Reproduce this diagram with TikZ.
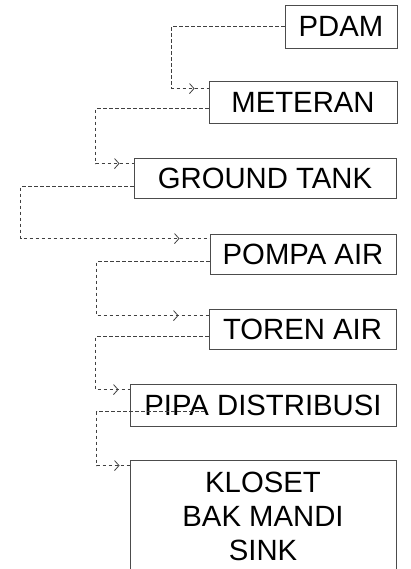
\documentclass[tikz,border=0pt]{standalone}
\usepackage{fontspec}
\setmainfont{Liberation Sans}
\usetikzlibrary{calc,arrows.meta,decorations.markings}
\tikzset{
  box/.style={draw=black!70, line width=0.9pt, fill=white, inner sep=0pt, align=center,
    font=\fontsize{29.3}{34}\selectfont},
  conn/.style={draw=black!75, line width=0.8pt, dash pattern=on 3.5pt off 2.5pt},
  tipat/.style={postaction={decorate, decoration={markings,
    mark=at position -#1pt with {\arrow[solid,line width=0.8pt]{Straight Barb[length=4.5pt,width=10pt]}}}}}
}
\begin{document}
\begin{tikzpicture}[x=1pt,y=-1pt]
\useasboundingbox (0,0) rectangle (410,569);
\clip (0,0) rectangle (410,569);
\node[box, minimum width=112pt, minimum height=43pt] (pdam) at (341,26.5) {PDAM};
\node[box, minimum width=188pt, minimum height=42pt] (meteran) at (303,102) {METERAN};
\node[box, minimum width=262pt, minimum height=40pt] (gt) at (265,178) {GROUND TANK};
\node[box, minimum width=186pt, minimum height=40pt] (pompa) at (303,254) {POMPA AIR};
\node[box, minimum width=187pt, minimum height=40pt] (toren) at (302.5,329) {TOREN AIR};
\node[box, minimum width=266pt, minimum height=42pt] (pipa) at (263,405) {PIPA DISTRIBUSI};
\node[box, minimum width=266pt, minimum height=113pt] (kl) at (263,516.5) {KLOSET\\BAK MANDI\\SINK};

\draw[conn, tipat=14] (pdam.west) -- ++(-113,0) |- ($(meteran.north west)+(0,8)$);
\draw[conn, tipat=14] ($(meteran.north west)+(0,28)$) -- ++(-113,0) |- ($(gt.north west)+(0,6)$);
\draw[conn, tipat=30] ($(gt.north west)+(0,29)$) -- ++(-113,0) |- ($(pompa.north west)+(0,5)$);
\draw[conn, tipat=30] ($(pompa.north west)+(0,28)$) -- ++(-113,0) |- ($(toren.north west)+(0,7)$);
\draw[conn, tipat=11] ($(toren.north west)+(0,28)$) -- ++(-113,0) |- ($(pipa.north west)+(0,6)$);
\draw[conn, tipat=10] ($(pipa.north west)+(75,28)$) -- ++(-108,0) |- ($(kl.north west)+(0,6)$);
\end{tikzpicture}
\end{document}
